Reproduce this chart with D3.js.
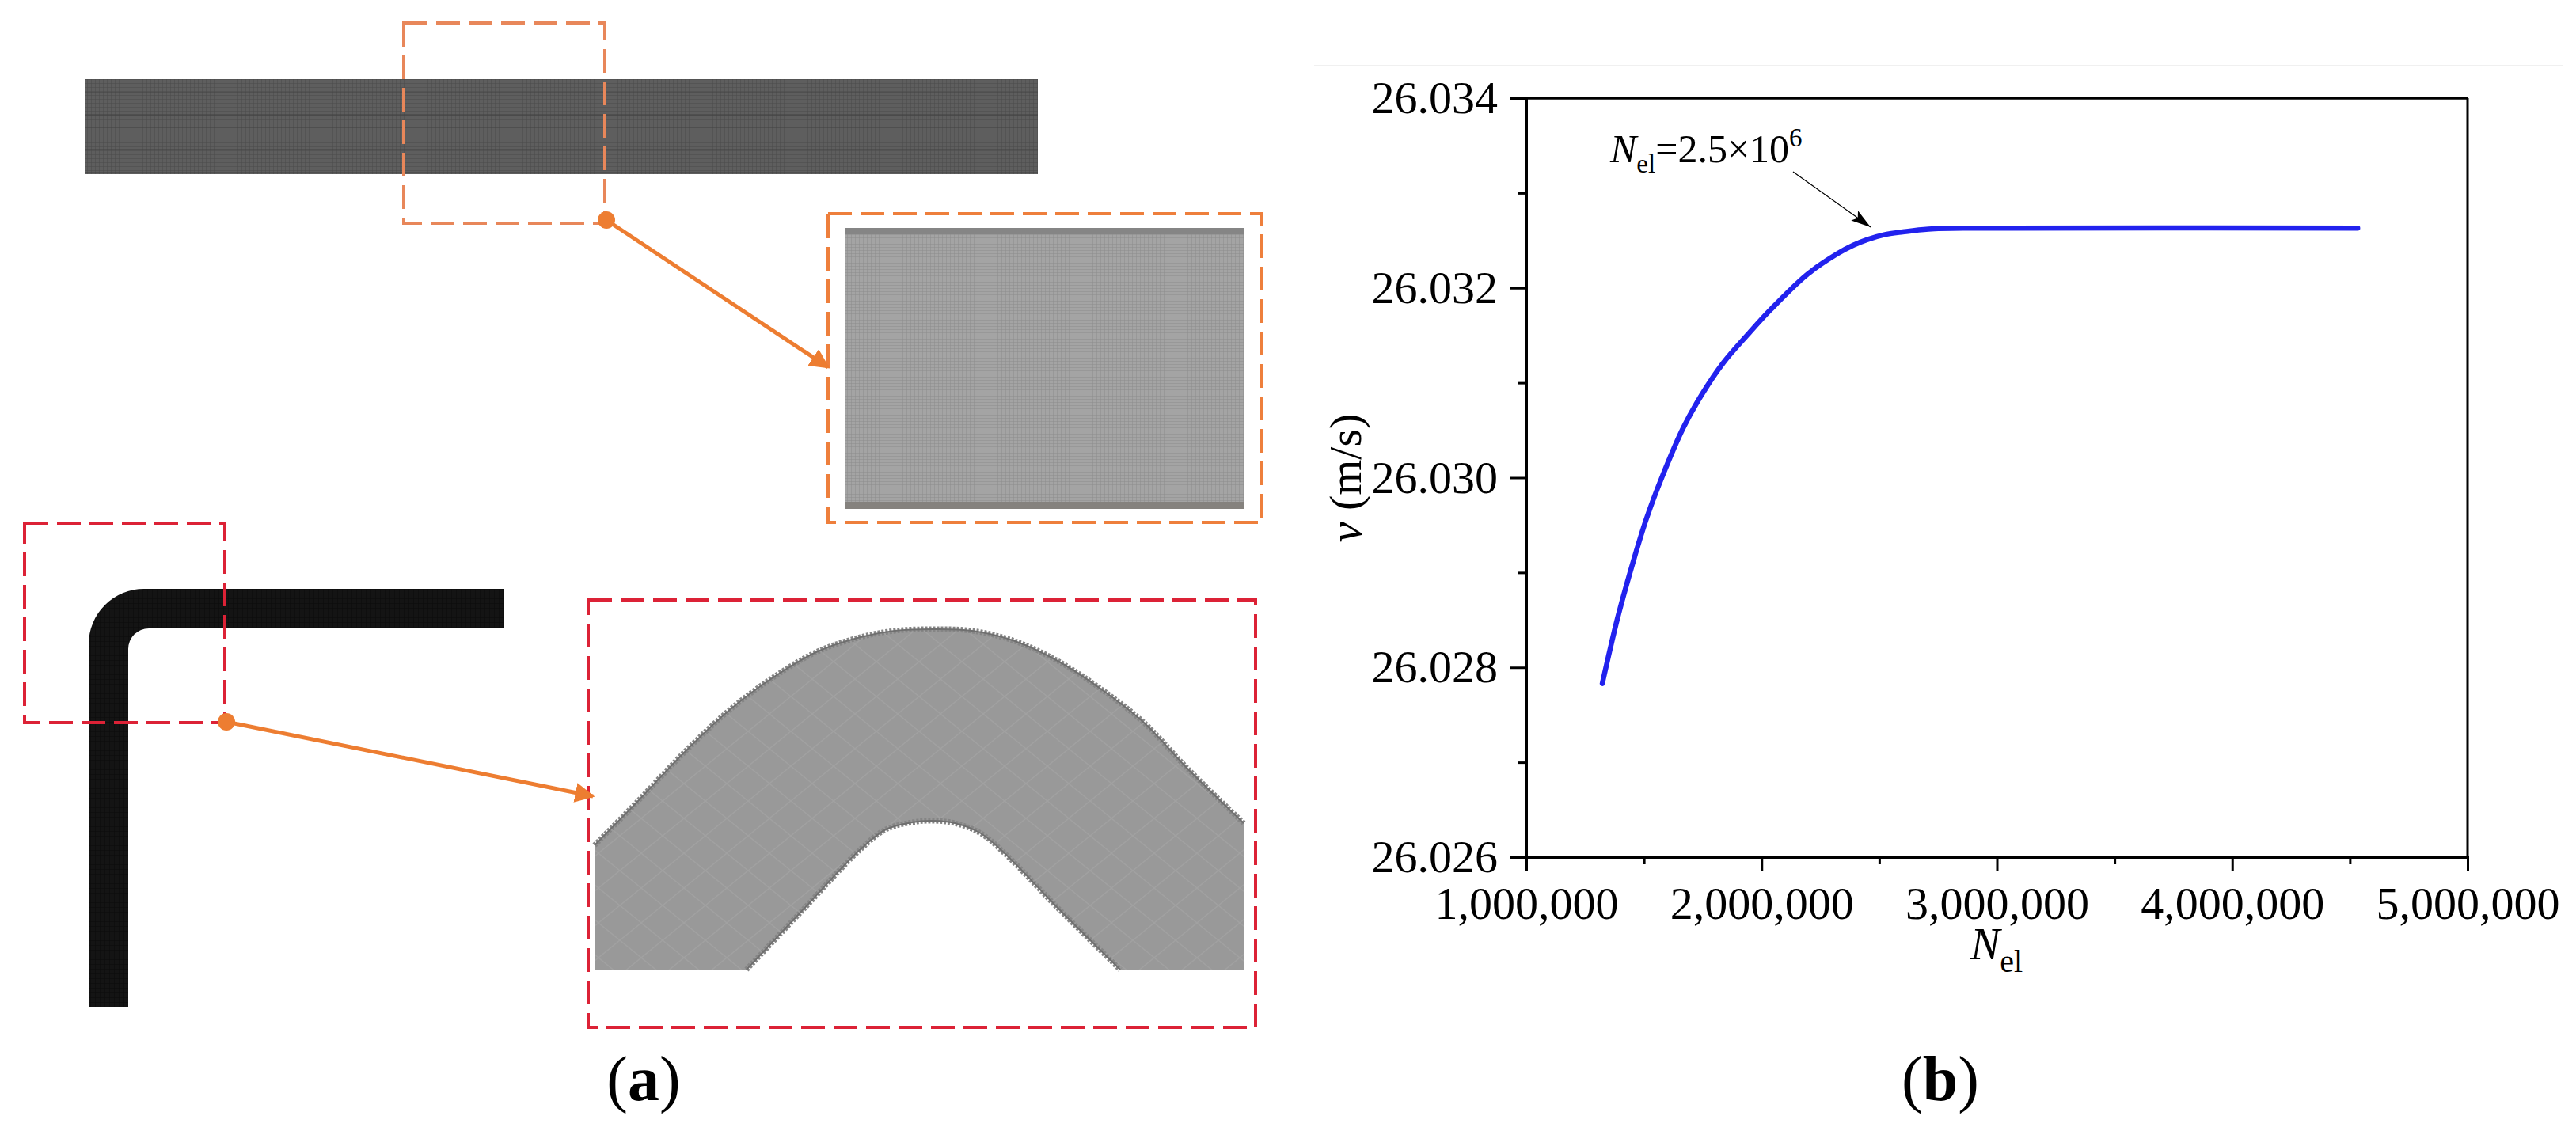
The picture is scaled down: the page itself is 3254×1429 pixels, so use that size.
<!DOCTYPE html>
<html>
<head>
<meta charset="utf-8">
<script src="https://cdn.jsdelivr.net/npm/d3@7"></script>
<style>
  html, body { margin: 0; background: #fff; }
  text { font-family: "Liberation Serif", serif; fill: #000; }
</style>
</head>
<body>
<div id="figure"></div>
<script>
// curve of panel (b)
const elementCounts = [1323000, 1388000, 1455000, 1511000, 1579000, 1668000, 1747000, 1837000, 1949000, 2038000, 2193000, 2322000, 2390000, 2450000, 2520000, 2600000, 2709000, 2924000, 4533000];
const velocities = [26.02783, 26.02852, 26.02912, 26.02957, 26.03002, 26.03053, 26.03088, 26.03121, 26.03153, 26.03177, 26.03214, 26.03236, 26.03245, 26.03251, 26.03256, 26.03259, 26.03262, 26.03263, 26.03263];
const xTicks = [1000000, 2000000, 3000000, 4000000, 5000000];
const xMinorTicks = [1500000, 2500000, 3500000, 4500000];
const yTicks = [26.026, 26.028, 26.030, 26.032, 26.034];
const yMinorTicks = [26.027, 26.029, 26.031, 26.033];

// outlines of the mesh sketches in panel (a), in page pixels
const straightBar = [[107, 100], [1311, 100], [1311, 220], [107, 220]];
const straightBarSeams = [117, 145, 161, 189, 218];
const straightZoom = [[1067, 288], [1572, 288], [1572, 643], [1067, 643]];
const bentOuter = [[751, 1068], [805, 1013], [865, 950], [924, 895], [978, 855], [1033, 823], [1087, 805], [1130, 797], [1179, 795], [1228, 797], [1282, 810], [1336, 835], [1390, 870], [1445, 913], [1499, 970], [1571, 1040]];
const bentInner = [[943, 1225], [1011, 1153], [1087, 1073], [1119, 1048], [1152, 1039], [1179, 1037], [1206, 1040], [1239, 1053], [1271, 1080], [1336, 1147], [1415, 1225]];
const bentBase = [[1571, 1225], [751, 1225]];

const dashedBoxes = [
  { color: "#e8875a", x: 510, y: 29, w: 254, h: 253 },
  { color: "#ee7f3c", x: 1046, y: 270, w: 548, h: 390 },
  { color: "#dc2236", x: 31, y: 661, w: 253, h: 252 },
  { color: "#dc2236", x: 743, y: 758, w: 843, h: 540 }
];
const connectors = [
  { from: [766, 278], to: [1046, 464] },
  { from: [286, 912], to: [749, 1006] }
];

const width = 3254, height = 1429;
const svg = d3.select("#figure").append("svg")
  .attr("width", width)
  .attr("height", height);

const defs = svg.append("defs");
const meshPattern = (id, w, h, bg, lineColor) => {
  const p = defs.append("pattern").attr("id", id)
    .attr("width", w).attr("height", h)
    .attr("patternUnits", "userSpaceOnUse");
  p.append("rect").attr("width", w).attr("height", h).attr("fill", bg);
  p.append("path").attr("d", `M0 0H${w}M0 0V${h}`).attr("stroke", lineColor).attr("stroke-width", 1);
};
meshPattern("meshDark", 5, 5, "#5e5e5e", "#4a4a4a");
meshPattern("meshLight", 5, 4, "#a4a4a4", "#8c8c8c");
meshPattern("meshBlack", 6, 6, "#141414", "#0a0a0a");

// the bend zoom has a faint diamond weave
const diamonds = defs.append("pattern").attr("id", "meshGrey")
  .attr("width", 54).attr("height", 44)
  .attr("patternUnits", "userSpaceOnUse");
diamonds.append("rect").attr("width", 54).attr("height", 44).attr("fill", "#999999");
diamonds.append("path").attr("d", "M27 0L54 22L27 44L0 22Z")
  .attr("fill", "none").attr("stroke", "#a1a1a1").attr("stroke-width", 1.5);

const shapeLine = d3.line();

// panel (a)
const a = svg.append("g");
a.append("path").attr("d", shapeLine(straightBar) + "Z").attr("fill", "url(#meshDark)");
a.selectAll(".seam").data(straightBarSeams).enter().append("line")
  .attr("class", "seam")
  .attr("x1", straightBar[0][0]).attr("x2", straightBar[1][0])
  .attr("y1", d => d).attr("y2", d => d)
  .attr("stroke", "#414141").attr("stroke-width", 1);

a.append("path").attr("d", shapeLine(straightZoom) + "Z").attr("fill", "url(#meshLight)");
a.append("rect").attr("x", 1067).attr("y", 288).attr("width", 505).attr("height", 8).attr("fill", "#858585");
a.append("rect").attr("x", 1067).attr("y", 634).attr("width", 505).attr("height", 9).attr("fill", "#85827e");

// bent bar, outline with two rounded corners
const bent = d3.path();
bent.moveTo(637, 744);
bent.lineTo(182, 744);
bent.arcTo(112, 744, 112, 816, 70);
bent.lineTo(112, 1272);
bent.lineTo(162, 1272);
bent.lineTo(162, 820);
bent.arcTo(162, 794, 188, 794, 26);
bent.lineTo(637, 794);
bent.closePath();
a.append("path").attr("d", bent.toString()).attr("fill", "url(#meshBlack)");

// bend zoom: smooth outer and inner edges joined by the straight cuts
const smooth = d3.line().curve(d3.curveCatmullRom);
const bendPath = smooth(bentOuter)
  + "L" + bentBase[0].join(" ")
  + "L" + smooth(bentInner.slice().reverse()).slice(1)
  + "L" + bentBase[1].join(" ") + "Z";
a.append("path").attr("d", bendPath).attr("fill", "url(#meshGrey)");

// the finer boundary cells read as a rough dark edge
[bentOuter, bentInner].forEach(edge => {
  a.append("path").attr("d", smooth(edge))
    .attr("fill", "none").attr("stroke", "#858585").attr("stroke-width", 7)
    .attr("stroke-dasharray", "3 2");
  a.append("path").attr("d", smooth(edge))
    .attr("fill", "none").attr("stroke", "#6f6f6f").attr("stroke-width", 2);
});

a.selectAll(".box").data(dashedBoxes).enter().append("rect")
  .attr("class", "box")
  .attr("x", d => d.x).attr("y", d => d.y)
  .attr("width", d => d.w).attr("height", d => d.h)
  .attr("fill", "none")
  .attr("stroke", d => d.color)
  .attr("stroke-width", 4)
  .attr("stroke-dasharray", "30 11");

defs.append("marker").attr("id", "orangeHead")
  .attr("viewBox", "0 0 10 10").attr("refX", 9).attr("refY", 5)
  .attr("markerWidth", 5).attr("markerHeight", 5)
  .attr("orient", "auto")
  .append("path").attr("d", "M0 0L10 5L0 10Z").attr("fill", "#ed7d31");

a.selectAll(".connector").data(connectors).enter().append("line")
  .attr("class", "connector")
  .attr("x1", d => d.from[0]).attr("y1", d => d.from[1])
  .attr("x2", d => d.to[0]).attr("y2", d => d.to[1])
  .attr("stroke", "#ed7d31").attr("stroke-width", 5)
  .attr("marker-end", "url(#orangeHead)");
a.selectAll(".dot").data(connectors).enter().append("circle")
  .attr("cx", d => d.from[0]).attr("cy", d => d.from[1])
  .attr("r", 11).attr("fill", "#ed7d31");

// panel (b)
const plot = { left: 1928, right: 3117, top: 124, bottom: 1083 };
const x = d3.scaleLinear().domain([1000000, 5000000]).range([plot.left, plot.right]);
const y = d3.scaleLinear().domain([26.026, 26.034]).range([plot.bottom, plot.top]);

const fontSize = 58;
const b = svg.append("g");

const xAxis = b.append("g").attr("transform", `translate(0,${plot.bottom})`)
  .call(d3.axisBottom(x).tickValues(xTicks).tickSize(17).tickPadding(20).tickFormat(d3.format(",")));
xAxis.selectAll(".tick text").attr("font-size", fontSize).style("font-family", '"Liberation Serif"');
const yAxis = b.append("g").attr("transform", `translate(${plot.left},0)`)
  .call(d3.axisLeft(y).tickValues(yTicks).tickSize(20).tickPadding(16).tickFormat(d3.format(".3f")));
yAxis.selectAll(".tick text").attr("font-size", fontSize).style("font-family", '"Liberation Serif"');
b.append("g").attr("transform", `translate(0,${plot.bottom})`)
  .call(d3.axisBottom(x).tickValues(xMinorTicks).tickSize(9).tickFormat(""));
b.append("g").attr("transform", `translate(${plot.left},0)`)
  .call(d3.axisLeft(y).tickValues(yMinorTicks).tickSize(10).tickFormat(""));
b.selectAll(".domain").attr("stroke-width", 3);
b.selectAll(".tick line").attr("stroke-width", 3);

b.append("line").attr("x1", plot.left).attr("x2", plot.right).attr("y1", plot.top).attr("y2", plot.top)
  .attr("stroke", "#000").attr("stroke-width", 3.5);
b.append("line").attr("x1", plot.right).attr("x2", plot.right).attr("y1", plot.top).attr("y2", plot.bottom)
  .attr("stroke", "#000").attr("stroke-width", 3);

const curve = d3.line().x(d => x(d[0])).y(d => y(d[1])).curve(d3.curveCatmullRom);
b.append("path")
  .attr("d", curve(d3.zip(elementCounts, velocities)))
  .attr("fill", "none").attr("stroke", "#2222ee").attr("stroke-width", 6.5)
  .attr("stroke-linecap", "round");

// axis titles and the note
const xTitle = b.append("text").attr("x", 2522).attr("y", 1212).attr("text-anchor", "middle").attr("font-size", 56);
xTitle.append("tspan").attr("font-style", "italic").text("N");
xTitle.append("tspan").attr("font-size", 40).attr("dy", 16).text("el");

b.append("text").attr("transform", "translate(1719,604) rotate(-90)")
  .attr("text-anchor", "middle").attr("font-size", 58)
  .html('<tspan font-style="italic">v</tspan> (m/s)');

const note = b.append("text").attr("x", 2034).attr("y", 205).attr("font-size", 50);
note.append("tspan").attr("font-style", "italic").text("N");
note.append("tspan").attr("font-size", 33).attr("dy", 13).text("el");
note.append("tspan").attr("dy", -13).text("=2.5×10");
note.append("tspan").attr("font-size", 33).attr("dy", -20).text("6");

defs.append("marker").attr("id", "blackHead")
  .attr("viewBox", "0 0 10 6").attr("refX", 10).attr("refY", 3)
  .attr("markerWidth", 26).attr("markerHeight", 15).attr("markerUnits", "userSpaceOnUse")
  .attr("orient", "auto")
  .append("path").attr("d", "M0 0L10 3L0 6L2 3Z").attr("fill", "#000");
b.append("line").attr("x1", 2265).attr("y1", 217).attr("x2", 2363).attr("y2", 287)
  .attr("stroke", "#000").attr("stroke-width", 1.2).attr("marker-end", "url(#blackHead)");

// panel captions
const caption = (px, py, letter) => {
  const t = svg.append("text").attr("x", px).attr("y", py).attr("text-anchor", "middle").attr("font-size", 80);
  t.append("tspan").text("(");
  t.append("tspan").attr("font-weight", "bold").text(letter);
  t.append("tspan").text(")");
};
caption(813, 1390, "a");
caption(2451, 1390, "b");

// faint rule above panel (b)
svg.append("line").attr("x1", 1660).attr("x2", 3238).attr("y1", 83).attr("y2", 83)
  .attr("stroke", "#f0f0f0").attr("stroke-width", 2);
</script>
</body>
</html>
